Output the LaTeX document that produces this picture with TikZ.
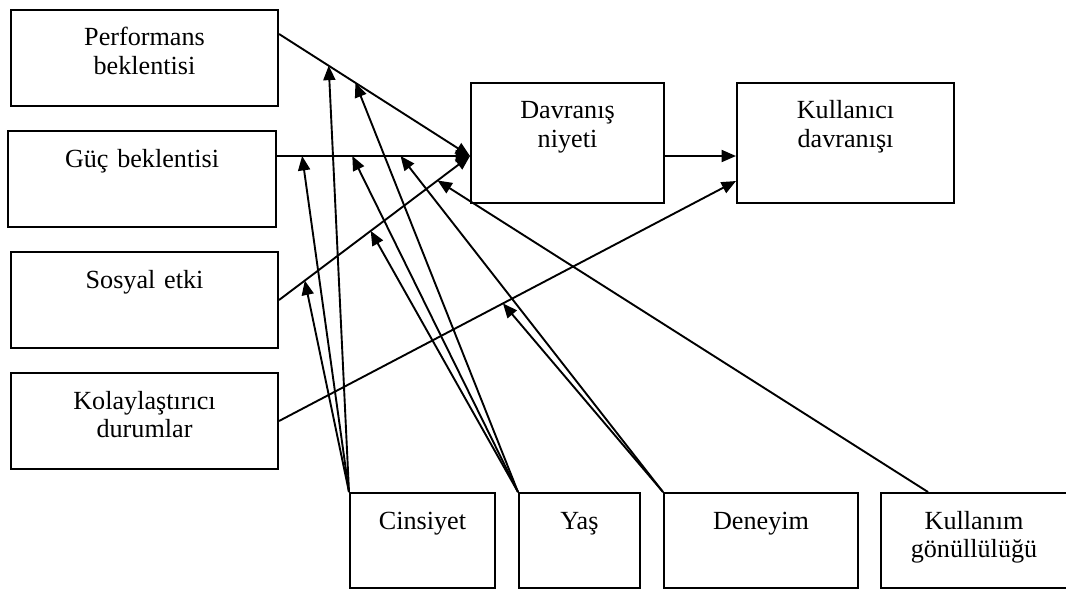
\documentclass[tikz,border=0pt]{standalone}
\usepackage{fontspec}
\setmainfont{Liberation Serif}
\usepackage{tikz}
\usetikzlibrary{arrows.meta,positioning,calc}

\tikzset{
  box/.style={draw, line width=1.4pt, anchor=north west, align=center,
              inner xsep=0pt, inner ysep=0pt, text height=0.9cm},
  link/.style={line width=1.35pt}
}

\begin{document}
\begin{tikzpicture}[x=0.025cm, y=-0.025cm, >={Triangle[length=0.36cm,width=0.3cm]},
                    font=\fontsize{18.6}{20.6}\selectfont]
  \useasboundingbox (0,0) rectangle (1066,588);

  % left column
  \node[box, text width=6.675cm, text depth=1.5cm] (perf) at (10,9) {Performans\\beklentisi};
  \node[box, text width=6.7cm, text depth=1.5cm] (guc) at (7,130) {Güç beklentisi};
  \node[box, text width=6.675cm, text depth=1.5cm] (sosyal) at (10,251) {Sosyal etki};
  \node[box, text width=6.675cm, text depth=1.5cm] (kolay) at (10,372) {Kolaylaştırıcı\\durumlar};

  % intention and behaviour
  \node[box, text width=4.825cm, text depth=2.1cm] (niyet) at (470,82) {Davranış\\niyeti};
  \node[box, text width=5.425cm, text depth=2.1cm] (kdav) at (736,82) {Kullanıcı\\davranışı};

  % moderators
  \node[box, text width=3.625cm, text depth=1.475cm] (cins) at (349,492) {Cinsiyet};
  \node[box, text width=3.025cm, text depth=1.475cm] (yas) at (518,492) {Yaş};
  \node[box, text width=4.85cm, text depth=1.475cm] (deney) at (663,492) {Deneyim};
  \node[box, text width=4.65cm, text depth=1.475cm] (gonul) at (880,492) {Kullanım\\gönüllülüğü};

  % main paths
  \draw[link,->] ([yshift=0.6cm]perf.east) -- coordinate[pos=0.26] (p1) coordinate[pos=0.40] (p2)
    ([yshift=-0.325cm]niyet.west);
  \draw[link,->] ([yshift=0.575cm]guc.east) -- coordinate[pos=0.13] (g1) coordinate[pos=0.39] (g2)
    coordinate[pos=0.64] (g3) ([yshift=-0.325cm]niyet.west);
  \draw[link,->] (sosyal.east) -- coordinate[pos=0.135] (s1) coordinate[pos=0.48] (s2)
    coordinate[pos=0.83] (s3) ([yshift=-0.325cm]niyet.west);
  \draw[link,->] (kolay.east) -- coordinate[pos=0.49] (k1) ([yshift=-0.95cm]kdav.west);
  \draw[link,->] ([yshift=-0.325cm]niyet.east) -- ([yshift=-0.325cm]kdav.west);

  % moderating effects
  \draw[link,->] (cins.north west) -- (p1);
  \draw[link,->] (cins.north west) -- (g1);
  \draw[link,->] (cins.north west) -- (s1);
  \draw[link,->] (yas.north west) -- (p2);
  \draw[link,->] (yas.north west) -- (g2);
  \draw[link,->] (yas.north west) -- (s2);
  \draw[link,->] (deney.north west) -- (g3);
  \draw[link,->] (deney.north west) -- (k1);
  \draw[link,->] ([xshift=1.2cm]gonul.north west) -- (s3);
\end{tikzpicture}
\end{document}
